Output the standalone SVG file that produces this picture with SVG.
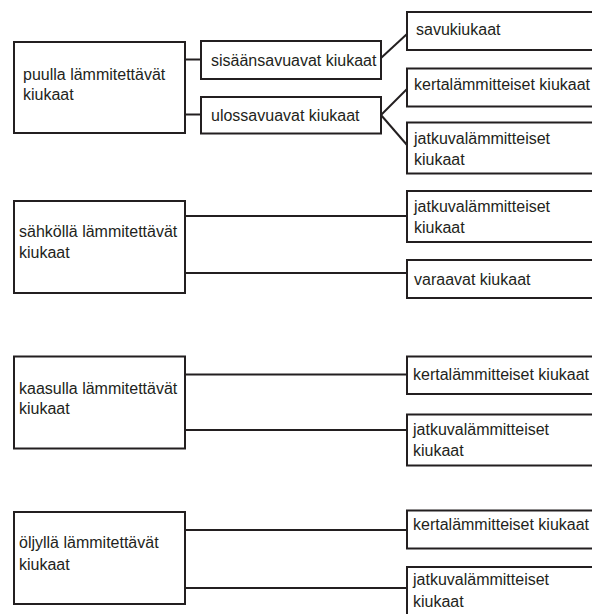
<svg xmlns="http://www.w3.org/2000/svg" width="592" height="614" viewBox="0 0 592 614">
  <style>
    .box { fill: #ffffff; stroke: #231f20; stroke-width: 2; }
    .edge { fill: none; stroke: #231f20; stroke-width: 2; }
    text { font-family: "Liberation Sans", Arial, sans-serif; font-size: 16px; fill: #231f20; }
  </style>
  <rect x="0" y="0" width="592" height="614" fill="#ffffff"/>

  <!-- connectors -->
  <g id="connectors">
    <line class="edge" x1="185" y1="59.5" x2="201" y2="59.5"/>
    <line class="edge" x1="185" y1="114.5" x2="201" y2="114.5"/>
    <line class="edge" x1="381" y1="58" x2="407" y2="34"/>
    <line class="edge" x1="381" y1="115" x2="407" y2="89"/>
    <line class="edge" x1="381" y1="115" x2="407" y2="145"/>
    <line class="edge" x1="185" y1="216" x2="407" y2="216"/>
    <line class="edge" x1="185" y1="273" x2="407" y2="273"/>
    <line class="edge" x1="185" y1="374.5" x2="407" y2="374.5"/>
    <line class="edge" x1="185" y1="430" x2="407" y2="430"/>
    <line class="edge" x1="185" y1="530" x2="407" y2="530"/>
    <line class="edge" x1="185" y1="588" x2="407" y2="588"/>
  </g>

  <!-- wood -->
  <g id="puulla">
    <rect class="box" x="14" y="42" width="171" height="91"/>
    <text x="23" y="80">puulla lämmitettävät</text>
    <text x="23" y="100">kiukaat</text>
  </g>
  <g id="sisaansavuavat">
    <rect class="box" x="201" y="41" width="180" height="38"/>
    <text x="211" y="65.5">sisäänsavuavat kiukaat</text>
  </g>
  <g id="ulossavuavat">
    <rect class="box" x="201" y="97" width="180" height="36.5"/>
    <text x="211" y="120.5">ulossavuavat kiukaat</text>
  </g>
  <g id="savukiukaat">
    <rect class="box" x="407" y="12" width="200" height="38"/>
    <text x="416" y="35">savukiukaat</text>
  </g>
  <g id="puu-kerta">
    <rect class="box" x="407" y="68.5" width="200" height="38"/>
    <text x="414" y="90">kertalämmitteiset kiukaat</text>
  </g>
  <g id="puu-jatkuva">
    <rect class="box" x="407" y="122.5" width="200" height="51"/>
    <text x="414" y="143.5">jatkuvalämmitteiset</text>
    <text x="414" y="165">kiukaat</text>
  </g>

  <!-- electric -->
  <g id="sahkolla">
    <rect class="box" x="14" y="201" width="171" height="92"/>
    <text x="19" y="237">sähköllä lämmitettävät</text>
    <text x="19" y="258">kiukaat</text>
  </g>
  <g id="sahko-jatkuva">
    <rect class="box" x="407" y="191" width="200" height="51"/>
    <text x="414" y="212">jatkuvalämmitteiset</text>
    <text x="414" y="233">kiukaat</text>
  </g>
  <g id="varaavat">
    <rect class="box" x="407" y="260" width="200" height="38"/>
    <text x="414" y="285">varaavat kiukaat</text>
  </g>

  <!-- gas -->
  <g id="kaasulla">
    <rect class="box" x="14" y="356.5" width="171" height="92"/>
    <text x="19" y="393.5">kaasulla lämmitettävät</text>
    <text x="19" y="414">kiukaat</text>
  </g>
  <g id="kaasu-kerta">
    <rect class="box" x="407" y="356.5" width="200" height="37.5"/>
    <text x="413" y="380">kertalämmitteiset kiukaat</text>
  </g>
  <g id="kaasu-jatkuva">
    <rect class="box" x="407" y="414.5" width="200" height="51"/>
    <text x="413" y="435">jatkuvalämmitteiset</text>
    <text x="413" y="455.5">kiukaat</text>
  </g>

  <!-- oil -->
  <g id="oljylla">
    <rect class="box" x="14" y="512" width="171" height="92"/>
    <text x="19" y="548">öljyllä lämmitettävät</text>
    <text x="19" y="570">kiukaat</text>
  </g>
  <g id="oljy-kerta">
    <rect class="box" x="407" y="510.5" width="200" height="38"/>
    <text x="413" y="530">kertalämmitteiset kiukaat</text>
  </g>
  <g id="oljy-jatkuva">
    <rect class="box" x="407" y="567" width="200" height="60"/>
    <text x="413" y="585">jatkuvalämmitteiset</text>
    <text x="413" y="606.5">kiukaat</text>
  </g>
</svg>
